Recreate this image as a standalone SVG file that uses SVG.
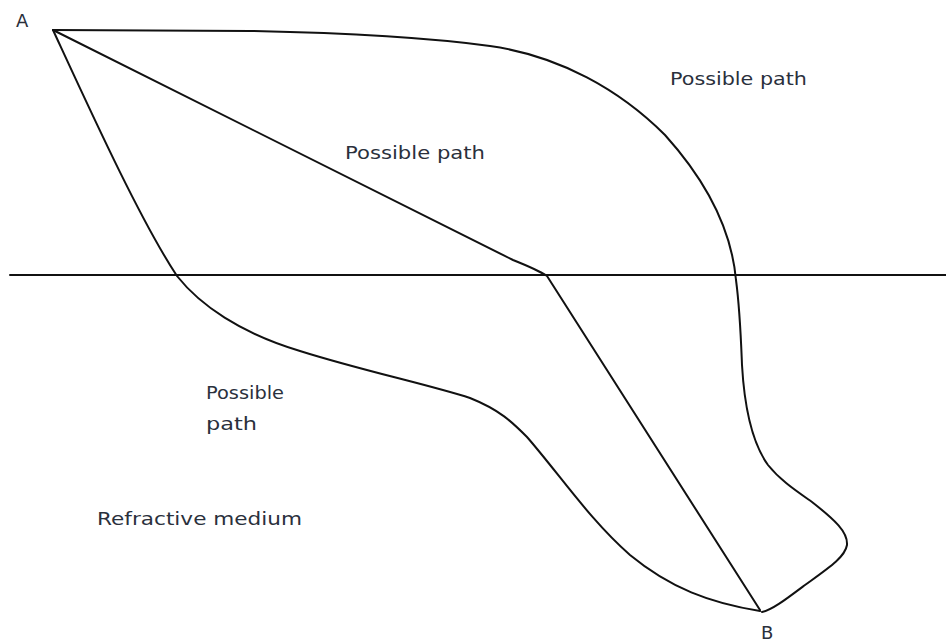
<svg xmlns="http://www.w3.org/2000/svg" width="946" height="642" viewBox="0 0 946 642">
<style>
.ln{fill:none;stroke:#111;stroke-width:2;stroke-linejoin:round;stroke-linecap:round}
.t{font-family:"DejaVu Sans","Liberation Sans",sans-serif;font-size:18px;fill:#2a303c}
</style>
<rect width="946" height="642" fill="#fff"/>
<g id="connectors">
<line id="interface" class="ln" x1="10" y1="275" x2="946" y2="275"/>
<path id="path-top" class="ln" d="M53,30 L250,31 C350,33 430,38 490,46 C560,56 620,90 665,135 C710,185 732,235 736,280 C740,310 741,340 742,365 C744,400 750,440 768,465 C780,480 795,490 812,502 C835,520 848,532 847,545 C845,557 830,567 805,585 C785,600 772,610 762,612"/>
<path id="path-straight" class="ln" d="M53,30 L513,260 Q538,270 547,276 L760,610"/>
<path id="path-left" class="ln" d="M53,30 C90,110 140,220 177,276 C200,305 240,333 300,351 C360,370 430,385 470,398 C500,410 512,422 527,437 C560,475 590,520 630,555 C670,588 710,603 760,611"/>
</g>
<g id="A"><text class="t" x="16" y="27" font-size="18">A</text></g>
<g id="B"><text class="t" x="761" y="639" font-size="15">B</text></g>
<g id="label-top"><text class="t" x="670" y="85" textLength="137" lengthAdjust="spacingAndGlyphs">Possible path</text></g>
<g id="label-mid"><text class="t" x="345" y="159" textLength="140" lengthAdjust="spacingAndGlyphs">Possible path</text></g>
<g id="label-left"><text class="t" x="206" y="399" textLength="78" lengthAdjust="spacingAndGlyphs">Possible</text><text class="t" x="206" y="430" textLength="51" lengthAdjust="spacingAndGlyphs">path</text></g>
<g id="medium"><text class="t" x="97" y="525" textLength="205" lengthAdjust="spacingAndGlyphs">Refractive medium</text></g>
</svg>
